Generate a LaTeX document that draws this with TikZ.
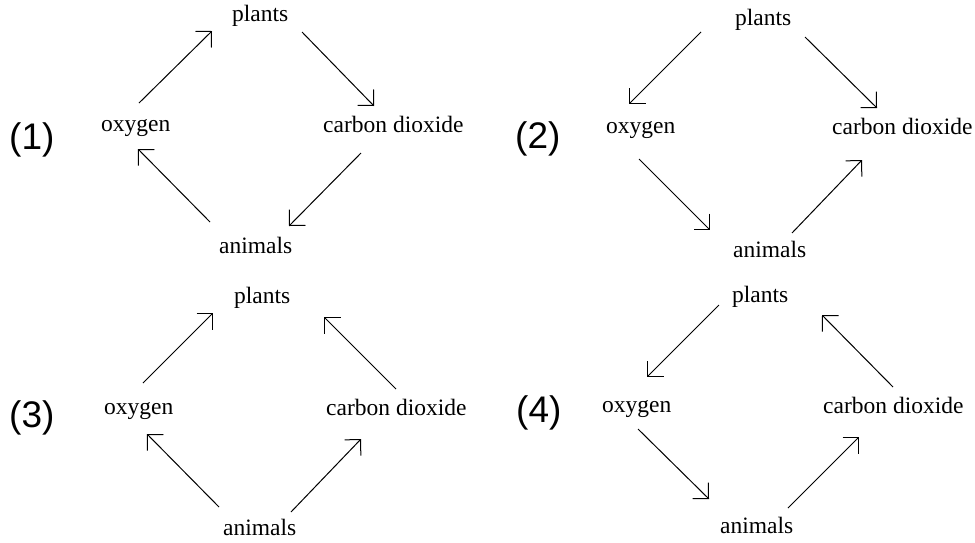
\documentclass[tikz,border=0pt]{standalone}
\usepackage{fontspec}
\setmainfont{Liberation Serif}
\newfontfamily\optfont{Liberation Sans}
\usetikzlibrary{arrows.meta}

\begin{document}
\begin{tikzpicture}[
  x=1pt, y=-1pt,
  term/.style={anchor=base west, inner sep=0pt,
               font=\fontsize{23.5}{26}\selectfont},
  choice/.style={anchor=base west, inner sep=0pt,
                 font=\optfont\fontsize{37}{40}\selectfont},
  arr/.style={-{Straight Barb[angle=90:16pt]}, line width=1pt}
]
  \useasboundingbox (0,0) rectangle (975,542);

  %% (1)
  \node[choice] (lab1) at (9,149) {(1)};
  \node[term] (plants1) at (232,21.5) {plants};
  \node[term] (oxy1) at (101,131.5) {oxygen};
  \node[term] (co2a) at (323,132) {carbon dioxide};
  \node[term] (anim1) at (219,253) {animals};

  \draw[arr] ([shift={(38,-28.5)}]oxy1.base west) -- ([shift={(-20,9.5)}]plants1.base west);
  \draw[arr] ([shift={(70,10.5)}]plants1.base west) -- ([shift={(51,-26)}]co2a.base west);
  \draw[arr] ([shift={(38,21)}]co2a.base west) -- ([shift={(70,-27)}]anim1.base west);
  \draw[arr] ([shift={(-9,-31)}]anim1.base west) -- ([shift={(37,17.5)}]oxy1.base west);

  %% (2)
  \node[choice] (lab2) at (515,148) {(2)};
  \node[term] (plants2) at (735,25) {plants};
  \node[term] (oxy2) at (606,133) {oxygen};
  \node[term] (co2b) at (832,134) {carbon dioxide};
  \node[term] (anim2) at (733,257) {animals};

  \draw[arr] ([shift={(-34,7)}]plants2.base west) -- ([shift={(23,-29)}]oxy2.base west);
  \draw[arr] ([shift={(70,12)}]plants2.base west) -- ([shift={(45,-26)}]co2b.base west);
  \draw[arr] ([shift={(33,26)}]oxy2.base west) -- ([shift={(-23,-27)}]anim2.base west);
  \draw[arr] ([shift={(59,-24)}]anim2.base west) -- ([shift={(30,26)}]co2b.base west);

  %% (3)
  \node[choice] (lab3) at (9,427) {(3)};
  \node[term] (plants3) at (234,303) {plants};
  \node[term] (oxy3) at (104,414) {oxygen};
  \node[term] (co2c) at (326,415) {carbon dioxide};
  \node[term] (anim3) at (223,535) {animals};

  \draw[arr] ([shift={(39,-31)}]oxy3.base west) -- ([shift={(-21,10)}]plants3.base west);
  \draw[arr] ([shift={(70,-26)}]co2c.base west) -- ([shift={(90,14)}]plants3.base west);
  \draw[arr] ([shift={(-4,-28)}]anim3.base west) -- ([shift={(43,20)}]oxy3.base west);
  \draw[arr] ([shift={(68,-23)}]anim3.base west) -- ([shift={(35,24)}]co2c.base west);

  %% (4)
  \node[choice] (lab4) at (516,422) {(4)};
  \node[term] (plants4) at (732,302) {plants};
  \node[term] (oxy4) at (602,412) {oxygen};
  \node[term] (co2d) at (823,413) {carbon dioxide};
  \node[term] (anim4) at (720,533) {animals};

  \draw[arr] ([shift={(-13,3)}]plants4.base west) -- ([shift={(45,-35)}]oxy4.base west);
  \draw[arr] ([shift={(70,-26)}]co2d.base west) -- ([shift={(90,13)}]plants4.base west);
  \draw[arr] ([shift={(36,17)}]oxy4.base west) -- ([shift={(-11,-34)}]anim4.base west);
  \draw[arr] ([shift={(68,-25)}]anim4.base west) -- ([shift={(36,24)}]co2d.base west);
\end{tikzpicture}
\end{document}
